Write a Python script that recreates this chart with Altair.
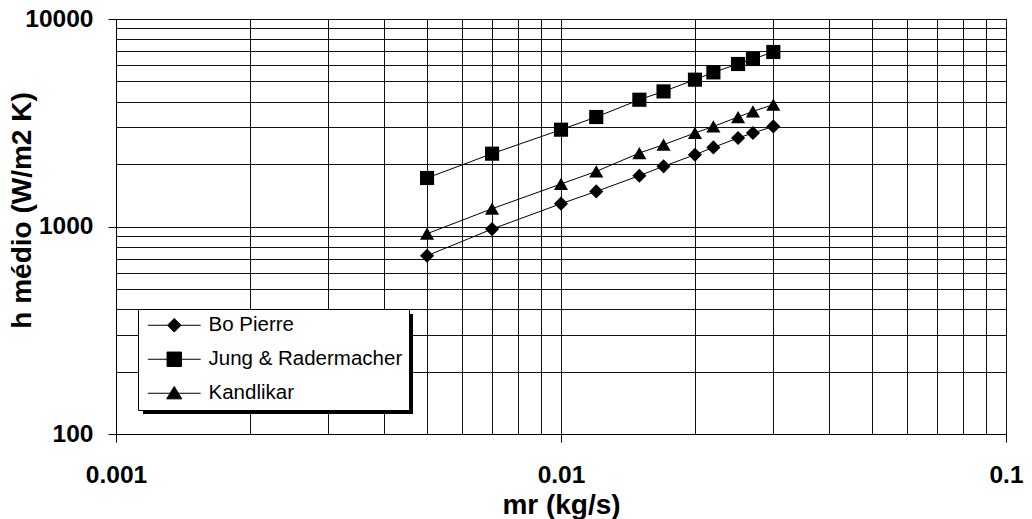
import altair as alt
import pandas as pd

# ---- data ----
mr = [0.005, 0.007, 0.01, 0.012, 0.015, 0.017, 0.02, 0.022, 0.025, 0.027, 0.03]
bo_pierre = [723, 972, 1288, 1476, 1757, 1950, 2218, 2405, 2670, 2822, 3036]
jung_radermacher = [1713, 2244, 2928, 3370, 4083, 4478, 5100, 5530, 6070, 6415, 6935]
kandlikar = [923, 1218, 1603, 1843, 2260, 2478, 2823, 3036, 3370, 3588, 3864]
series = ["Bo Pierre", "Jung & Radermacher", "Kandlikar"]
shapes = ["diamond", "square", "triangle-up"]

x_grid = [k * 10.0 ** e for e in (-3, -2) for k in range(1, 10)] + [0.1]
y_grid = [k * 10.0 ** e for e in (2, 3) for k in range(1, 10)] + [10000]

rows = []
for name, vals in zip(series, [bo_pierre, jung_radermacher, kandlikar]):
    for xv, yv in zip(mr, vals):
        rows.append({"mr": xv, "h": yv, "serie": name})
df = pd.DataFrame(rows)

FONT = "Liberation Sans"
is_decade = "abs(log(datum.value)/LN10 - round(log(datum.value)/LN10)) < 1e-6"

x_axis = alt.Axis(
    values=x_grid, grid=True, gridColor="#111", gridWidth=1,
    tickSize=8, tickColor="black",
    tickOpacity={"condition": {"test": is_decade, "value": 1}, "value": 0},
    labelExpr=f"({is_decade}) ? format(datum.value, '~g') : ''",
    labelOverlap=False, labelFlush=False, labelPadding=21,
    titleY=71, titleBaseline="middle", titleFontSize=28,
)
y_axis = alt.Axis(
    values=y_grid, grid=True, gridColor="#111", gridWidth=1,
    tickSize=8, tickColor="black",
    tickOpacity={"condition": {"test": is_decade, "value": 1}, "value": 0},
    labelExpr=f"({is_decade}) ? format(datum.value, '~g') : ''",
    labelOverlap=False, labelFlush=False, labelPadding=15,
    titleX=-94, titleY=191, titleAngle=270, titleAlign="center", titleBaseline="middle",
    titleFontSize=28,
)

x_enc = alt.X("mr:Q", scale=alt.Scale(type="log", domain=[0.001, 0.1]), axis=x_axis, title="mr (kg/s)")
y_enc = alt.Y("h:Q", scale=alt.Scale(type="log", domain=[100, 10000]), axis=y_axis, title="h médio (W/m2 K)")

# legend symbols: marker with a line segment through it
p_dia = "M-3.3,0H-0.85M0.85,0H3.3M0,-0.85L0.85,0L0,0.85L-0.85,0Z"
p_sq = "M-3.3,0H-0.9M0.9,0H3.3M-0.9,-0.9H0.9V0.9H-0.9Z"
p_tri = "M-3.3,0H3.3M0,-0.85L0.95,0.7H-0.95Z"

legend = alt.Legend(
    title=None, orient="none", legendX=22, legendY=290,
    strokeColor="black", fillColor="white", padding=6,
    labelFont=FONT, labelFontSize=20.5, labelColor="black", labelFontWeight="normal",
    labelLimit=400,
    symbolSize=256, symbolOffset=20, labelOffset=24, rowPadding=13,
    symbolStrokeWidth=1, symbolOpacity=1,
)

shadow = alt.Chart(pd.DataFrame({"a": [0]})).mark_rect(color="black").encode(
    x=alt.value(27), x2=alt.value(297), y=alt.value(295), y2=alt.value(395)
)

lines = alt.Chart(df).mark_line(color="black", strokeWidth=1).encode(
    x=x_enc, y=y_enc, detail="serie:N"
)

points = alt.Chart(df).mark_point(filled=True, color="black", opacity=1, size=200).encode(
    x=x_enc, y=y_enc,
    shape=alt.Shape("serie:N", scale=alt.Scale(domain=series, range=shapes), legend=None),
)

# legend-only layer (no rows drawn), with the line-through-marker symbols
legend_layer = alt.Chart(df).transform_filter("false").mark_point(
    filled=False, color="black", fill="black", stroke="black", strokeWidth=1, opacity=1, size=256
).encode(
    x=x_enc, y=y_enc,
    shape=alt.Shape("serie:N", scale=alt.Scale(domain=series, range=[p_dia, p_sq, p_tri]), legend=legend),
)

chart = alt.layer(shadow, lines, points, legend_layer).resolve_scale(
    shape="independent"
).properties(
    width=890, height=415,
    autosize=alt.AutoSizeParams(type="none"),
    padding={"left": 116, "top": 19, "right": 26, "bottom": 85},
    background="white",
).configure_view(
    stroke="black", strokeWidth=1
).configure_axis(
    domainColor="black", domainWidth=1,
    labelFont=FONT, labelFontSize=24.5, labelFontWeight="bold", labelColor="black",
    titleFont=FONT, titleFontWeight="bold", titleColor="black",
)

chart.save("out.html", embed_options={"renderer": "svg", "actions": False})
